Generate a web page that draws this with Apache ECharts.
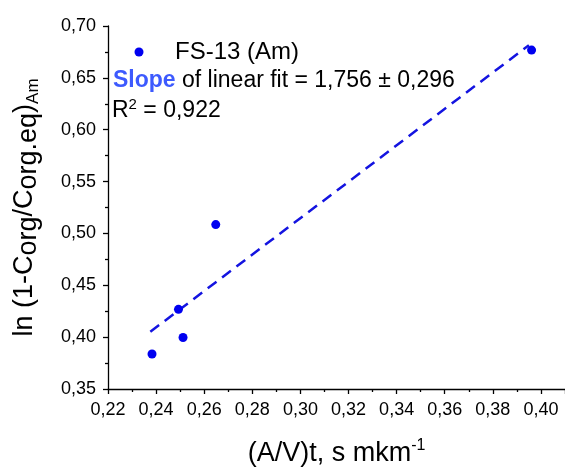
<!DOCTYPE html>
<html>
<head>
<meta charset="utf-8">
<script src="https://cdn.jsdelivr.net/npm/echarts@6/dist/echarts.min.js"></script>
<style>html,body{margin:0;padding:0;background:#fff}#c{width:565px;height:475px}</style>
</head>
<body>
<div id="c"></div>
<script>
// Data
const xValues = [0.2383, 0.2493, 0.2512, 0.2648, 0.3961];
const yValues = [0.3838, 0.4268, 0.3997, 0.5085, 0.6768];
const fitX = [0.2376, 0.3950];
const fitY = [0.4052, 0.6815];
const seriesName = 'FS-13 (Am)';
const slopeText = '1,756 ± 0,296';
const r2Text = '0,922';

const F = 'Liberation Sans, Arial, sans-serif';
const comma = v => v.toFixed(2).replace('.', ',');

const chart = echarts.init(document.getElementById('c'), null, {renderer: 'canvas'});
chart.setOption({
  animation: false,
  backgroundColor: '#fff',
  grid: {left: 99, top: 26, width: 467, height: 376, containLabel: false},
  legend: {
    show: true,
    left: 134.5, top: 39,
    padding: 0,
    icon: 'circle',
    itemWidth: 40, itemHeight: 9,
    itemGap: 0,
    data: [seriesName],
    itemStyle: {opacity: 1},
    textStyle: {fontFamily: F, fontSize: 24, lineHeight: 26, color: '#000', padding: [0, 0, 0, 11]}
  },
  xAxis: {
    type: 'value', min: 0.22, max: 0.41, interval: 0.02,
    name: '(A/V)t, s mkm{sup|-1}',
    nameLocation: 'middle', nameGap: 49,
    nameTextStyle: {fontFamily: F, fontSize: 27, color: '#000', lineHeight: 32,
      rich: {sup: {fontFamily: F, fontSize: 16, color: '#000', verticalAlign: 'top', lineHeight: 16}}},
    axisLine: {show: true, onZero: false, lineStyle: {color: '#000', width: 1.3}},
    axisTick: {show: true, inside: false, length: 5, lineStyle: {color: '#000', width: 1.3}},
    minorTick: {show: true, splitNumber: 2, length: 3, lineStyle: {color: '#000', width: 1.3}},
    splitLine: {show: false},
    axisLabel: {fontFamily: F, fontSize: 18, color: '#000', margin: 12, showMaxLabel: false,
      formatter: v => comma(v)}
  },
  yAxis: {
    type: 'value', min: 0.35, max: 0.70, interval: 0.05,
    name: 'ln (1-C{sub|org}/C{sub|org.eq}){sub2|Am}',
    nameLocation: 'middle', nameGap: 66, nameRotate: 90,
    nameTextStyle: {fontFamily: F, fontSize: 27, color: '#000', lineHeight: 34,
      rich: {
        sub: {fontFamily: F, fontSize: 27, color: '#000', verticalAlign: 'bottom', lineHeight: 27},
        sub2: {fontFamily: F, fontSize: 17, color: '#000', verticalAlign: 'bottom', lineHeight: 17}
      }},
    axisLine: {show: true, onZero: false, lineStyle: {color: '#000', width: 1.3}},
    axisTick: {show: true, inside: false, length: 5, lineStyle: {color: '#000', width: 1.3}},
    minorTick: {show: true, splitNumber: 2, length: 3, lineStyle: {color: '#000', width: 1.3}},
    splitLine: {show: false},
    axisLabel: {fontFamily: F, fontSize: 18, color: '#000', margin: 12,
      formatter: v => comma(v)}
  },
  series: [
    {
      name: seriesName, type: 'scatter',
      data: xValues.map((x, i) => [x, yValues[i]]),
      symbol: 'circle', symbolSize: 9,
      itemStyle: {color: '#0000f0', opacity: 1},
      z: 3
    },
    {
      name: 'Linear fit', type: 'line',
      data: fitX.map((x, i) => [x, fitY[i]]),
      symbol: 'none',
      lineStyle: {color: '#1414e0', width: 2.5, type: [11, 7]},
      z: 2
    }
  ],
  graphic: [
    {
      type: 'text', left: 113, top: 69,
      style: {
        text: '{b|Slope} of linear fit = ' + slopeText,
        fontFamily: F, fontSize: 23, fill: '#000',
        rich: {b: {fontFamily: F, fontSize: 23, fontWeight: 'bold', fill: '#3d5afe'}}
      }
    },
    {
      type: 'text', left: 112, top: 97,
      style: {
        text: 'R{sup|2} = ' + r2Text,
        fontFamily: F, fontSize: 23, fill: '#000', lineHeight: 28,
        rich: {sup: {fontFamily: F, fontSize: 15, fill: '#000', verticalAlign: 'top', lineHeight: 15}}
      }
    }
  ]
});
</script>
</body>
</html>
